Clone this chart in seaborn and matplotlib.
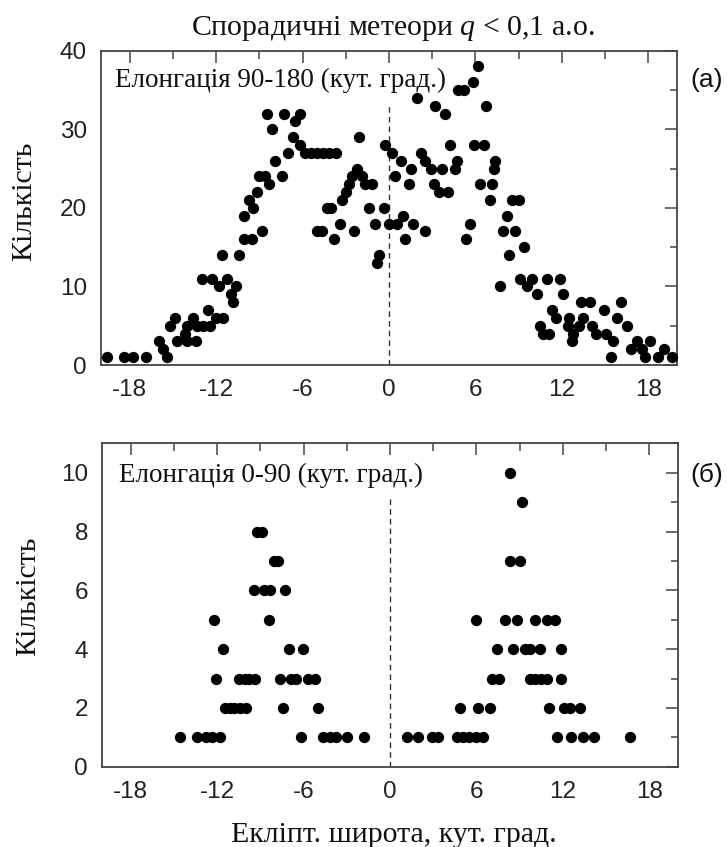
import matplotlib
matplotlib.use("Agg")
import matplotlib.pyplot as plt
from matplotlib.ticker import MultipleLocator
import pandas as pd
import seaborn as sns

# Upper panel: elongation 90-180 deg -- ecliptic latitude and number of meteors
top_lat = [
    -19.6, -18.4, -17.8, -16.85, -16.0, -15.7, -15.4, -15.2, -14.85, -14.7,
    -14.2, -14.0, -14.0, -13.6, -13.4, -13.3, -13.0, -12.9, -12.6, -12.4,
    -12.3, -12.0, -11.8, -11.6, -11.5, -11.25, -11.0, -10.8, -10.6, -10.4,
    -10.1, -10.1, -9.75, -9.5, -9.45, -9.2, -9.0, -8.8, -8.6, -8.5,
    -8.36, -8.1, -7.9, -7.4, -7.3, -7.0, -6.7, -6.5, -6.2, -6.15,
    -5.8, -5.4, -5.0, -5.0, -4.65, -4.6, -4.3, -4.2, -4.05, -3.84,
    -3.7, -3.4, -3.26, -3.0, -2.8, -2.57, -2.4, -2.2, -2.1, -1.9,
    -1.64, -1.4, -1.2, -0.95, -0.85, -0.7, -0.37, -0.25, 0.0, 0.2,
    0.44, 0.55, 0.8, 1.0, 1.13, 1.37, 1.5, 1.7, 1.94, 2.2,
    2.5, 2.5, 2.9, 3.1, 3.2, 3.45, 3.68, 3.9, 4.1, 4.26,
    4.6, 4.7, 4.8, 5.2, 5.37, 5.6, 5.8, 5.93, 6.16, 6.34,
    6.6, 6.76, 7.0, 7.15, 7.27, 7.38, 7.73, 7.9, 8.2, 8.3,
    8.54, 8.77, 9.0, 9.1, 9.35, 9.6, 9.9, 10.3, 10.5, 10.7,
    10.97, 11.1, 11.3, 11.6, 11.9, 12.1, 12.4, 12.5, 12.7, 12.8,
    13.2, 13.3, 13.5, 13.96, 14.1, 14.4, 14.9, 15.1, 15.4, 15.55,
    15.8, 16.1, 16.5, 16.8, 17.2, 17.6, 17.8, 18.1, 18.7, 19.1,
    19.65,
]
top_count = [
    1, 1, 1, 1, 3, 2, 1, 5, 6, 3,
    4, 5, 3, 6, 3, 5, 11, 5, 7, 5,
    11, 6, 10, 14, 6, 11, 9, 8, 10, 14,
    16, 19, 21, 16, 20, 22, 24, 17, 24, 32,
    23, 30, 26, 24, 32, 27, 29, 31, 28, 32,
    27, 27, 27, 17, 17, 27, 20, 27, 20, 16,
    27, 18, 21, 22, 23, 24, 17, 25, 29, 24,
    23, 20, 23, 18, 13, 14, 20, 28, 18, 27,
    24, 18, 26, 19, 16, 23, 25, 18, 34, 27,
    26, 17, 25, 23, 33, 22, 25, 32, 22, 28,
    25, 26, 35, 35, 16, 18, 36, 28, 38, 23,
    28, 33, 21, 23, 25, 26, 10, 17, 19, 14,
    21, 17, 21, 11, 15, 10, 11, 9, 5, 4,
    11, 4, 7, 6, 11, 9, 5, 6, 3, 4,
    5, 8, 6, 8, 5, 4, 7, 4, 1, 3,
    6, 8, 5, 2, 3, 2, 1, 3, 1, 2,
    1,
]

# Lower panel: elongation 0-90 deg, latitudes grouped by meteor count
bot_lat_1 = [-14.6, -13.4, -12.75, -12.35, -11.8, -6.2, -4.68, -4.2, -3.75, -3.0,
             -1.8, 1.16, 1.97, 2.9, 3.35, 4.63, 5.05, 5.5, 6.0, 6.43,
             11.6, 12.6, 13.4, 14.2, 16.67]
bot_lat_2 = [-11.46, -11.1, -10.8, -10.4, -10.0, -7.4, -4.98, 4.86, 6.1, 6.94,
             11.06, 12.1, 12.5, 13.2]
bot_lat_3 = [-12.1, -10.5, -10.1, -9.8, -9.4, -7.64, -6.9, -6.5, -5.67, -5.2,
             7.1, 7.6, 9.7, 10.1, 10.5, 10.9, 11.9]
bot_lat_4 = [-11.6, -7.0, -6.06, 7.45, 8.56, 9.4, 9.7, 10.4, 11.85]
bot_lat_5 = [-12.2, -8.4, 6.0, 7.99, 8.8, 10.07, 10.9, 11.46]
bot_lat_6 = [-9.44, -8.75, -8.3, -7.3]
bot_lat_7 = [-8.06, -7.75, 8.33, 9.03]
bot_lat_8 = [-9.26, -8.9]
bot_lat_9 = [9.2]
bot_lat_10 = [8.3]

x_ticks_major = 6
x_ticks_minor = 3

title = "Спорадичні метеори $q$ < 0,1 а.о."
panel_top_note = "Елонгація 90-180 (кут. град.)"
panel_bot_note = "Елонгація 0-90 (кут. град.)"
y_label = "Кількість"
x_label = "Екліпт. широта, кут. град."

top_df = pd.DataFrame({"lat": top_lat, "count": top_count})
groups = [bot_lat_1, bot_lat_2, bot_lat_3, bot_lat_4, bot_lat_5,
          bot_lat_6, bot_lat_7, bot_lat_8, bot_lat_9, bot_lat_10]
bot_df = pd.DataFrame({
    "lat": [v for g in groups for v in g],
    "count": [i + 1 for i, g in enumerate(groups) for _ in g],
})

sns.set_theme(style="white")
plt.rcParams["font.family"] = ["Liberation Sans", "DejaVu Sans"]
plt.rcParams["axes.unicode_minus"] = False
plt.rcParams["mathtext.fontset"] = "custom"
plt.rcParams["mathtext.it"] = "Liberation Serif:italic"
plt.rcParams["mathtext.rm"] = "Liberation Serif"

SERIF = ["Liberation Serif", "DejaVu Serif"]
INK = "#111111"
AXC = "#444444"
FW, FH = 727, 847

fig = plt.figure(figsize=(FW / 100, FH / 100), dpi=100)
ax1 = fig.add_axes([101 / FW, 1 - 365 / FH, 576 / FW, 314.3 / FH])
ax2 = fig.add_axes([102 / FW, 1 - 766.7 / FH, 576 / FW, 323.4 / FH])


def style_axes(ax, ymax, ymaj, ymin):
    ax.set_xlim(-20, 20)
    ax.set_ylim(0, ymax)
    ax.xaxis.set_major_locator(MultipleLocator(x_ticks_major))
    ax.xaxis.set_minor_locator(MultipleLocator(x_ticks_minor))
    ax.yaxis.set_major_locator(MultipleLocator(ymaj))
    ax.yaxis.set_minor_locator(MultipleLocator(ymin))
    ax.tick_params(which="both", direction="in", top=True, right=True,
                   color=AXC, width=1.1, labelcolor="#222222", labelsize=17.5)
    ax.tick_params(which="major", length=8.5)
    ax.tick_params(which="minor", length=5.4)
    ax.tick_params(axis="x", pad=10)
    ax.tick_params(axis="y", pad=10)
    for s in ax.spines.values():
        s.set_color(AXC)
        s.set_linewidth(1.3)
    ax.set_xlabel("")
    ax.set_ylabel("")


for ax, df in ((ax1, top_df), (ax2, bot_df)):
    ax.axvline(0, ymin=0, ymax=0.83, color="#333333", lw=1.0, ls=(0, (4, 3)))
    sns.scatterplot(data=df, x="lat", y="count", ax=ax, color="black",
                    s=66, linewidth=0, legend=False, zorder=3, clip_on=False)

style_axes(ax1, 40, 10, 5)
style_axes(ax2, 11, 2, 1)

ax1.text(0.024, 0.907, panel_top_note, transform=ax1.transAxes, va="center",
         ha="left", fontsize=19.5, family=SERIF, color=INK)
ax2.text(0.03, 0.902, panel_bot_note, transform=ax2.transAxes, va="center",
         ha="left", fontsize=19.5, family=SERIF, color=INK)

fig.text(707 / FW, 1 - 80 / FH, "(a)", ha="center", va="center", fontsize=19,
         color=INK)
fig.text(707 / FW, 1 - 475 / FH, "(б)", ha="center", va="center", fontsize=19,
         color=INK)

fig.text(393 / FW, 1 - 35 / FH, title, ha="center", va="baseline",
         fontsize=21.5, family=SERIF, color=INK)
fig.text(394 / FW, 1 - 842 / FH, x_label, ha="center", va="baseline",
         fontsize=21.5, family=SERIF, color=INK)
fig.text(24 / FW, 1 - 201.5 / FH, y_label, rotation=90, ha="center",
         va="center", fontsize=21.5, family=SERIF, color=INK)
fig.text(28 / FW, 1 - 596 / FH, y_label, rotation=90, ha="center",
         va="center", fontsize=21.5, family=SERIF, color=INK)

fig.savefig("out.png", dpi=100)
